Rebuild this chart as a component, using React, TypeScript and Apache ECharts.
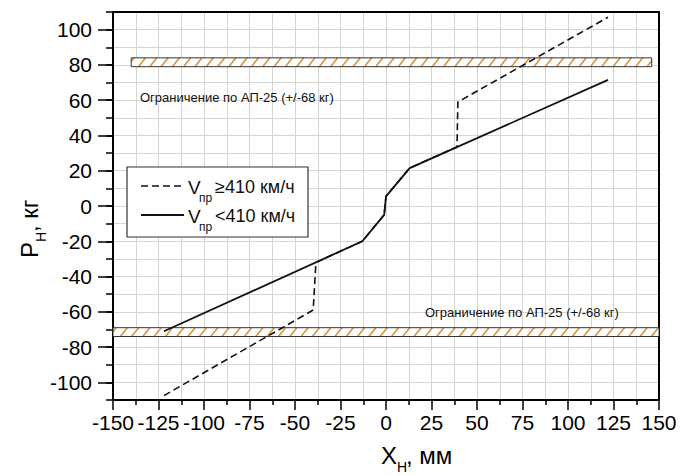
import { useEffect, useRef } from "react";
import * as echarts from "echarts";

// ---- data ----
const xMajorTicks = [-150, -125, -100, -75, -50, -25, 0, 25, 50, 75, 100, 125, 150];
const yMajorTicks = [-100, -80, -60, -40, -20, 0, 20, 40, 60, 80, 100];

// V пр ≥ 410 км/ч (dashed)
const fastX = [-122, -40, -38.5, -13, -1, 0, 13, 39, 39.5, 122];
const fastY = [-107.5, -59, -32, -20, -5, 5.5, 21.5, 33.5, 59, 107];

// V пр < 410 км/ч (solid)
const slowX = [-122, -13, -1, 0, 13, 122];
const slowY = [-71, -20, -5, 5.5, 21.5, 71.5];

// limit bands (АП-25)
const bandX0 = [-140, -150];
const bandX1 = [146, 150];
const bandY0 = [79, -74];
const bandY1 = [84, -69];

const seriesNames = ["≥410 км/ч", "<410 км/ч"];
const limitNote = "Ограничение по АП-25 (+/-68 кг)";

const FONT = "'Liberation Sans', Arial, sans-serif";
const GRID = "#d4d4d4";
const HATCH = "#e0913a";

export default function App() {
  const ref = useRef<HTMLDivElement>(null);

  useEffect(() => {
    if (!ref.current) return;
    const chart = echarts.init(ref.current, undefined, { renderer: "svg" });

    const fastData = fastX.map((x, i) => [x, fastY[i]]);
    const slowData = slowX.map((x, i) => [x, slowY[i]]);
    const bandData = bandX0.map((x0, i) => [x0, bandX1[i], bandY0[i], bandY1[i]]);

    const tickStyle = { color: "#000", width: 1.5 };

    const option: any = {
      animation: false,
      backgroundColor: "#fff",
      grid: { left: 113, right: 22, top: 12, bottom: 75, containLabel: false },
      xAxis: [
        {
          type: "value",
          min: -150,
          max: 150,
          interval: 25,
          position: "bottom",
          axisLine: { show: true, onZero: false, lineStyle: { color: "#000", width: 2 } },
          axisTick: { show: true, length: 10, lineStyle: tickStyle },
          minorTick: { show: true, splitNumber: 2, length: 5, lineStyle: tickStyle },
          splitLine: { show: true, lineStyle: { color: GRID, width: 1 } },
          minorSplitLine: { show: true, lineStyle: { color: GRID, width: 1 } },
          axisLabel: {
            fontSize: 21,
            color: "#000",
            margin: 12,
            fontFamily: FONT,
            customValues: xMajorTicks,
          },
        },
        {
          type: "value",
          min: -150,
          max: 150,
          position: "top",
          axisLine: { show: true, onZero: false, lineStyle: { color: "#000", width: 2 } },
          axisTick: { show: false },
          axisLabel: { show: false },
          splitLine: { show: false },
        },
      ],
      yAxis: [
        {
          type: "value",
          min: -110,
          max: 110,
          interval: 10,
          position: "left",
          axisLine: { show: true, onZero: false, lineStyle: { color: "#000", width: 2 } },
          axisTick: { show: true, length: 7, lineStyle: tickStyle },
          splitLine: { show: true, lineStyle: { color: GRID, width: 1 } },
          axisLabel: {
            fontSize: 21,
            color: "#000",
            margin: 21,
            fontFamily: FONT,
            customValues: yMajorTicks,
            formatter: (v: number) => (Math.round(v) % 20 === 0 ? String(v) : ""),
          },
        },
        {
          type: "value",
          min: -110,
          max: 110,
          interval: 10,
          position: "left",
          axisLine: { show: false, onZero: false },
          axisTick: { show: true, length: 15, lineStyle: tickStyle, customValues: yMajorTicks },
          axisLabel: { show: false },
          splitLine: { show: false },
        },
        {
          type: "value",
          min: -110,
          max: 110,
          position: "right",
          axisLine: { show: true, onZero: false, lineStyle: { color: "#000", width: 2 } },
          axisTick: { show: false },
          axisLabel: { show: false },
          splitLine: { show: false },
        },
      ],
      series: [
        {
          type: "custom",
          name: "bands",
          xAxisIndex: 0,
          yAxisIndex: 0,
          data: bandData,
          silent: true,
          z: 2,
          renderItem: (params: any, api: any) => {
            const p0 = api.coord([api.value(0), api.value(3)]);
            const p1 = api.coord([api.value(1), api.value(2)]);
            const left = p0[0];
            const top = p0[1];
            const right = p1[0];
            const bottom = p1[1];
            const h = bottom - top;
            const dx = h * 0.8;
            const step = 11.3;
            const children: any[] = [
              {
                type: "rect",
                shape: { x: left, y: top, width: right - left, height: h },
                style: { fill: "#fff", stroke: "none" },
              },
            ];
            for (let s = left + 3 - dx; s < right; s += step) {
              let x1 = s, y1 = bottom, x2 = s + dx, y2 = top;
              if (x1 < left) {
                const t = (left - s) / dx;
                x1 = left;
                y1 = bottom - t * h;
              }
              if (x2 > right) {
                const t = (right - s) / dx;
                x2 = right;
                y2 = bottom - t * h;
              }
              if (x2 <= x1) continue;
              children.push({
                type: "line",
                shape: { x1, y1, x2, y2 },
                style: { stroke: HATCH, lineWidth: 1.6 },
              });
            }
            children.push({
              type: "rect",
              shape: { x: left, y: top, width: right - left, height: h },
              style: { fill: "none", stroke: "#333", lineWidth: 1 },
            });
            return { type: "group", children };
          },
        },
        {
          type: "line",
          name: seriesNames[0],
          data: fastData,
          showSymbol: false,
          symbol: "none",
          z: 5,
          lineStyle: { color: "#111", width: 1.6, type: [7, 4] },
        },
        {
          type: "line",
          name: seriesNames[1],
          data: slowData,
          showSymbol: false,
          symbol: "none",
          z: 6,
          lineStyle: { color: "#111", width: 1.8, type: "solid" },
        },
      ],
      graphic: [
        // limit annotations
        {
          type: "text",
          left: 140,
          top: 91,
          z: 20,
          style: { text: limitNote, fontSize: 13, fill: "#111", fontFamily: FONT },
        },
        {
          type: "text",
          left: 425,
          top: 306,
          z: 20,
          style: { text: limitNote, fontSize: 13, fill: "#111", fontFamily: FONT },
        },
        // legend
        {
          type: "rect",
          z: 20,
          shape: { x: 127, y: 167, width: 181, height: 70 },
          style: { fill: "#fff", stroke: "#333", lineWidth: 1.2 },
        },
        {
          type: "line",
          z: 21,
          shape: { x1: 141, y1: 186, x2: 184, y2: 186 },
          style: { stroke: "#111", lineWidth: 1.6, lineDash: [7, 4] },
        },
        {
          type: "line",
          z: 21,
          shape: { x1: 141, y1: 215, x2: 184, y2: 215 },
          style: { stroke: "#111", lineWidth: 1.8 },
        },
        { type: "text", z: 21, x: 188, y: 187, style: { text: "V", fontSize: 19, fill: "#111", fontFamily: FONT, verticalAlign: "middle" } },
        { type: "text", z: 21, x: 199, y: 198, style: { text: "пр", fontSize: 12, fill: "#111", fontFamily: FONT, verticalAlign: "middle" } },
        { type: "text", z: 21, x: 215, y: 187, style: { text: seriesNames[0], fontSize: 18, fill: "#111", fontFamily: FONT, verticalAlign: "middle" } },
        { type: "text", z: 21, x: 188, y: 216, style: { text: "V", fontSize: 19, fill: "#111", fontFamily: FONT, verticalAlign: "middle" } },
        { type: "text", z: 21, x: 199, y: 227, style: { text: "пр", fontSize: 12, fill: "#111", fontFamily: FONT, verticalAlign: "middle" } },
        { type: "text", z: 21, x: 215, y: 216, style: { text: seriesNames[1], fontSize: 18, fill: "#111", fontFamily: FONT, verticalAlign: "middle" } },
        // x axis title
        { type: "text", z: 21, x: 381, y: 455, style: { text: "X", fontSize: 24, fill: "#000", fontFamily: FONT, verticalAlign: "middle" } },
        { type: "text", z: 21, x: 397, y: 467, style: { text: "H", fontSize: 14, fill: "#000", fontFamily: FONT, verticalAlign: "middle" } },
        { type: "text", z: 21, x: 406, y: 455, style: { text: ", мм", fontSize: 24, fill: "#000", fontFamily: FONT, verticalAlign: "middle" } },
        // y axis title (rotated)
        {
          type: "group",
          x: 29,
          y: 224,
          rotation: Math.PI / 2,
          z: 21,
          children: [
            { type: "text", x: -34, y: 0, style: { text: "P", fontSize: 24, fill: "#000", fontFamily: FONT, verticalAlign: "middle" } },
            { type: "text", x: -18, y: 12, style: { text: "H", fontSize: 14, fill: "#000", fontFamily: FONT, verticalAlign: "middle" } },
            { type: "text", x: -8, y: 0, style: { text: ", кг", fontSize: 24, fill: "#000", fontFamily: FONT, verticalAlign: "middle" } },
          ],
        },
      ],
    };

    chart.setOption(option);
    return () => chart.dispose();
  }, []);

  return (
    <div
      ref={ref}
      style={{ position: "fixed", left: 0, top: 0, width: 681, height: 475, background: "#fff" }}
    />
  );
}
